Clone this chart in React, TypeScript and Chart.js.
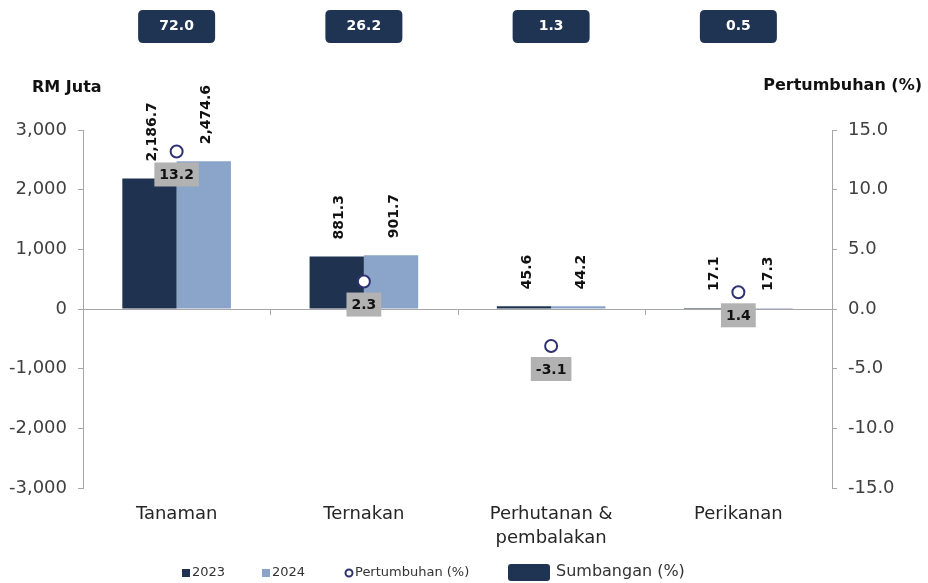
import React, { useEffect, useRef } from "react";
import { Chart, registerables } from "chart.js";

Chart.register(...registerables);

const categories: (string | string[])[] = ["Tanaman", "Ternakan", ["Perhutanan &", "pembalakan"], "Perikanan"];
const values2023 = [2186.7, 881.3, 45.6, 17.1];
const values2024 = [2474.6, 901.7, 44.2, 17.3];
const growth = [13.2, 2.3, -3.1, 1.4];
const share = [72.0, 26.2, 1.3, 0.5];
const leftTicks = [-3000, -2000, -1000, 0, 1000, 2000, 3000];
const rightTicks = [-15, -10, -5, 0, 5, 10, 15];

const FONT = "'DejaVu Sans', sans-serif";
const C2023 = "#1f3350";
const C2024 = "#8aa5c9";
const NAVY_BOX = "#1f3352";
const AXIS = "#a6a6a6";

function roundRect(ctx: CanvasRenderingContext2D, x: number, y: number, w: number, h: number, r: number) {
  ctx.beginPath();
  ctx.moveTo(x + r, y);
  ctx.lineTo(x + w - r, y);
  ctx.quadraticCurveTo(x + w, y, x + w, y + r);
  ctx.lineTo(x + w, y + h - r);
  ctx.quadraticCurveTo(x + w, y + h, x + w - r, y + h);
  ctx.lineTo(x + r, y + h);
  ctx.quadraticCurveTo(x, y + h, x, y + h - r);
  ctx.lineTo(x, y + r);
  ctx.quadraticCurveTo(x, y, x + r, y);
  ctx.closePath();
}

const customPlugin = {
  id: "customDraw",
  beforeDatasetsDraw(chart: any) {
    const { ctx, chartArea, scales } = chart;
    const y0 = scales.y.getPixelForValue(0);
    ctx.save();
    ctx.strokeStyle = AXIS;
    ctx.lineWidth = 1;
    ctx.beginPath();
    ctx.moveTo(chartArea.left, y0 + 0.5);
    ctx.lineTo(chartArea.right, y0 + 0.5);
    const n = categories.length;
    for (let i = 1; i < n; i++) {
      const x = Math.round((scales.x.getPixelForValue(i - 1) + scales.x.getPixelForValue(i)) / 2) + 0.5;
      ctx.moveTo(x, y0);
      ctx.lineTo(x, y0 + 6);
    }
    ctx.stroke();
    ctx.restore();
  },
  afterDatasetsDraw(chart: any) {
    const { ctx, scales } = chart;
    ctx.save();
    // rotated bar value labels
    [0, 1].forEach((di) => {
      const meta = chart.getDatasetMeta(di);
      const vals = di === 0 ? values2023 : values2024;
      meta.data.forEach((el: any, i: number) => {
        const txt = vals[i].toLocaleString("en-US", { minimumFractionDigits: 1, maximumFractionDigits: 1 });
        ctx.save();
        ctx.translate(el.x + 3, el.y - 17);
        ctx.rotate(-Math.PI / 2);
        ctx.font = `bold 14px ${FONT}`;
        ctx.fillStyle = "#111";
        ctx.textAlign = "left";
        ctx.textBaseline = "middle";
        ctx.fillText(txt, 0, 0);
        ctx.restore();
      });
    });
    // growth labels
    const gm = chart.getDatasetMeta(2);
    gm.data.forEach((el: any, i: number) => {
      const txt = growth[i].toFixed(1);
      ctx.font = `bold 14px ${FONT}`;
      const w = ctx.measureText(txt).width + 10;
      const h = 24;
      const top = el.y + 11;
      ctx.fillStyle = "#b3b2b2";
      ctx.fillRect(el.x - w / 2, top, w, h);
      ctx.fillStyle = "#111";
      ctx.textAlign = "center";
      ctx.textBaseline = "middle";
      ctx.fillText(txt, el.x, top + h / 2 + 1);
    });
    // share boxes at the top
    share.forEach((v, i) => {
      const x = scales.x.getPixelForValue(i);
      const w = 77;
      const h = 33;
      const top = 10;
      ctx.fillStyle = NAVY_BOX;
      roundRect(ctx, x - w / 2, top, w, h, 5);
      ctx.fill();
      ctx.fillStyle = "#ffffff";
      ctx.font = `bold 14px ${FONT}`;
      ctx.textAlign = "center";
      ctx.textBaseline = "middle";
      ctx.fillText(v.toFixed(1), x, top + h / 2);
    });
    // axis titles
    ctx.fillStyle = "#111";
    ctx.font = `bold 16px ${FONT}`;
    ctx.textBaseline = "middle";
    ctx.textAlign = "left";
    ctx.fillText("RM Juta", 32, 88);
    ctx.textAlign = "right";
    ctx.fillText("Pertumbuhan (%)", 922, 86);
    // legend
    const ly = 573;
    ctx.font = `13px ${FONT}`;
    ctx.textAlign = "left";
    ctx.fillStyle = C2023;
    ctx.fillRect(182, ly - 4, 8, 8);
    ctx.fillStyle = "#333";
    ctx.fillText("2023", 192, ly);
    ctx.fillStyle = C2024;
    ctx.fillRect(262, ly - 4, 8, 8);
    ctx.fillStyle = "#333";
    ctx.fillText("2024", 272, ly);
    ctx.strokeStyle = "#2e3270";
    ctx.lineWidth = 2;
    ctx.beginPath();
    ctx.arc(349, ly, 3.5, 0, Math.PI * 2);
    ctx.stroke();
    ctx.fillStyle = "#333";
    ctx.fillText("Pertumbuhan (%)", 355, ly);
    ctx.fillStyle = NAVY_BOX;
    roundRect(ctx, 508, ly - 9, 42, 17, 3);
    ctx.fill();
    ctx.fillStyle = "#333";
    ctx.font = `16px ${FONT}`;
    ctx.fillText("Sumbangan (%)", 556, ly - 1);
    ctx.restore();
  },
};

export default function App() {
  const ref = useRef<HTMLCanvasElement | null>(null);
  useEffect(() => {
    document.body.style.margin = "0";
    const canvas = ref.current;
    if (!canvas) return;
    const chart = new Chart(canvas, {
      type: "bar",
      data: {
        labels: categories as any,
        datasets: [
          {
            label: "2023",
            data: values2023,
            backgroundColor: C2023,
            yAxisID: "y",
            categoryPercentage: 0.58,
            barPercentage: 1.0,
            order: 1,
          } as any,
          {
            label: "2024",
            data: values2024,
            backgroundColor: C2024,
            yAxisID: "y",
            categoryPercentage: 0.58,
            barPercentage: 1.0,
            order: 1,
          } as any,
          {
            type: "line",
            label: "Pertumbuhan (%)",
            data: growth,
            yAxisID: "y1",
            showLine: false,
            pointRadius: 6,
            pointBorderWidth: 2,
            pointBorderColor: "#2e3270",
            pointBackgroundColor: "#ffffff",
            order: 0,
          } as any,
        ],
      },
      options: {
        responsive: false,
        animation: false,
        layout: { padding: { top: 130, left: 0, right: 0, bottom: 0 } },
        plugins: { legend: { display: false }, tooltip: { enabled: false } },
        scales: {
          x: {
            grid: { display: false },
            border: { display: false },
            ticks: {
              font: { family: FONT, size: 18, lineHeight: 1.3 },
              color: "#262626",
              padding: 7,
              maxRotation: 0,
              autoSkip: false,
            },
            afterFit: (s: any) => {
              s.height = 95;
            },
          },
          y: {
            position: "left",
            min: -3000,
            max: 3000,
            afterBuildTicks: (s: any) => {
              s.ticks = leftTicks.map((v) => ({ value: v }));
            },
            ticks: {
              callback: (v: any) => Number(v).toLocaleString("en-US"),
              font: { family: FONT, size: 18 },
              color: "#404040",
              padding: 11,
            },
            grid: { drawOnChartArea: false, drawTicks: true, tickLength: 5, color: AXIS },
            border: { display: true, color: AXIS },
            afterFit: (s: any) => {
              s.width = 83;
            },
          },
          y1: {
            position: "right",
            min: -15,
            max: 15,
            afterBuildTicks: (s: any) => {
              s.ticks = rightTicks.map((v) => ({ value: v }));
            },
            ticks: {
              callback: (v: any) => Number(v).toFixed(1),
              font: { family: FONT, size: 18 },
              color: "#404040",
              padding: 11,
            },
            grid: { drawOnChartArea: false, drawTicks: true, tickLength: 5, color: AXIS },
            border: { display: true, color: AXIS },
            afterFit: (s: any) => {
              s.width = 96;
            },
          },
        },
      },
      plugins: [customPlugin],
    } as any);
    return () => chart.destroy();
  }, []);
  return <canvas ref={ref} width={928} height={583} style={{ display: "block" }} />;
}
